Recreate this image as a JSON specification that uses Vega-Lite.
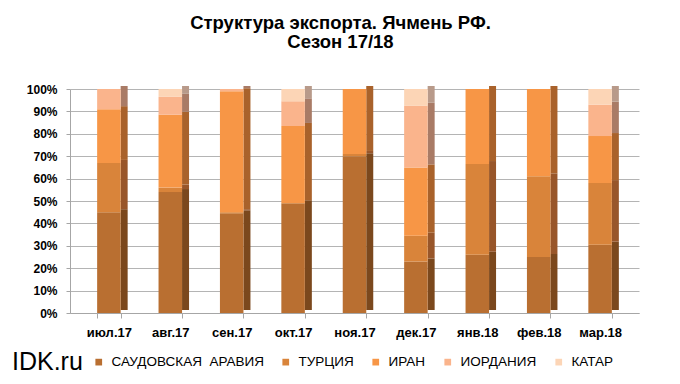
{
  "$schema": "https://vega.github.io/schema/vega-lite/v6.json",
  "width": 569,
  "height": 224,
  "autosize": {"type": "none"},
  "padding": {"left": 70, "top": 89, "right": 41, "bottom": 71},
  "background": "white",
  "title": {
    "text": ["Структура экспорта. Ячмень РФ.", "Сезон 17/18"],
    "font": "Liberation Sans",
    "fontSize": 18.5,
    "fontWeight": "bold",
    "color": "black",
    "lineHeight": 19,
    "anchor": "middle",
    "dx": -14,
    "offset": 32
  },
  "config": {
    "view": {"stroke": null},
    "font": "Liberation Sans"
  },
  "data": {
    "values": [
      {"month": "июл.17", "country": "САУДОВСКАЯ\u00a0 АРАВИЯ", "k": 1, "value": 45},
      {"month": "июл.17", "country": "ТУРЦИЯ", "k": 2, "value": 22},
      {"month": "июл.17", "country": "ИРАН", "k": 3, "value": 24},
      {"month": "июл.17", "country": "ИОРДАНИЯ", "k": 4, "value": 9},
      {"month": "июл.17", "country": "КАТАР", "k": 5, "value": 0},
      {"month": "авг.17", "country": "САУДОВСКАЯ\u00a0 АРАВИЯ", "k": 1, "value": 54},
      {"month": "авг.17", "country": "ТУРЦИЯ", "k": 2, "value": 2},
      {"month": "авг.17", "country": "ИРАН", "k": 3, "value": 32.5},
      {"month": "авг.17", "country": "ИОРДАНИЯ", "k": 4, "value": 8},
      {"month": "авг.17", "country": "КАТАР", "k": 5, "value": 3.5},
      {"month": "сен.17", "country": "САУДОВСКАЯ\u00a0 АРАВИЯ", "k": 1, "value": 44.5},
      {"month": "сен.17", "country": "ТУРЦИЯ", "k": 2, "value": 0.5},
      {"month": "сен.17", "country": "ИРАН", "k": 3, "value": 54},
      {"month": "сен.17", "country": "ИОРДАНИЯ", "k": 4, "value": 1},
      {"month": "сен.17", "country": "КАТАР", "k": 5, "value": 0},
      {"month": "окт.17", "country": "САУДОВСКАЯ\u00a0 АРАВИЯ", "k": 1, "value": 49},
      {"month": "окт.17", "country": "ТУРЦИЯ", "k": 2, "value": 0},
      {"month": "окт.17", "country": "ИРАН", "k": 3, "value": 34.5},
      {"month": "окт.17", "country": "ИОРДАНИЯ", "k": 4, "value": 11},
      {"month": "окт.17", "country": "КАТАР", "k": 5, "value": 5.5},
      {"month": "ноя.17", "country": "САУДОВСКАЯ\u00a0 АРАВИЯ", "k": 1, "value": 70},
      {"month": "ноя.17", "country": "ТУРЦИЯ", "k": 2, "value": 1},
      {"month": "ноя.17", "country": "ИРАН", "k": 3, "value": 29},
      {"month": "ноя.17", "country": "ИОРДАНИЯ", "k": 4, "value": 0},
      {"month": "ноя.17", "country": "КАТАР", "k": 5, "value": 0},
      {"month": "дек.17", "country": "САУДОВСКАЯ\u00a0 АРАВИЯ", "k": 1, "value": 23},
      {"month": "дек.17", "country": "ТУРЦИЯ", "k": 2, "value": 11.5},
      {"month": "дек.17", "country": "ИРАН", "k": 3, "value": 30.5},
      {"month": "дек.17", "country": "ИОРДАНИЯ", "k": 4, "value": 27.5},
      {"month": "дек.17", "country": "КАТАР", "k": 5, "value": 7.5},
      {"month": "янв.18", "country": "САУДОВСКАЯ\u00a0 АРАВИЯ", "k": 1, "value": 26},
      {"month": "янв.18", "country": "ТУРЦИЯ", "k": 2, "value": 40.5},
      {"month": "янв.18", "country": "ИРАН", "k": 3, "value": 33.5},
      {"month": "янв.18", "country": "ИОРДАНИЯ", "k": 4, "value": 0},
      {"month": "янв.18", "country": "КАТАР", "k": 5, "value": 0},
      {"month": "фев.18", "country": "САУДОВСКАЯ\u00a0 АРАВИЯ", "k": 1, "value": 25},
      {"month": "фев.18", "country": "ТУРЦИЯ", "k": 2, "value": 36},
      {"month": "фев.18", "country": "ИРАН", "k": 3, "value": 39},
      {"month": "фев.18", "country": "ИОРДАНИЯ", "k": 4, "value": 0},
      {"month": "фев.18", "country": "КАТАР", "k": 5, "value": 0},
      {"month": "мар.18", "country": "САУДОВСКАЯ\u00a0 АРАВИЯ", "k": 1, "value": 30.5},
      {"month": "мар.18", "country": "ТУРЦИЯ", "k": 2, "value": 27.5},
      {"month": "мар.18", "country": "ИРАН", "k": 3, "value": 21},
      {"month": "мар.18", "country": "ИОРДАНИЯ", "k": 4, "value": 14},
      {"month": "мар.18", "country": "КАТАР", "k": 5, "value": 7}
    ]
  },
  "encoding": {
    "x": {
      "field": "month",
      "type": "nominal",
      "sort": null,
      "scale": {"paddingInner": 0.617, "paddingOuter": 0.442},
      "axis": {
        "title": null,
        "labelAngle": 0,
        "labelFont": "Liberation Sans",
        "labelFontSize": 13,
        "labelFontWeight": "bold",
        "labelColor": "black",
        "tickSize": 5,
        "labelPadding": 8,
        "domainColor": "#a6a6a6",
        "tickColor": "#a6a6a6",
        "tickBand": "extent"
      }
    },
    "y": {
      "field": "value",
      "type": "quantitative",
      "stack": "normalize",
      "scale": {"domain": [0, 1]},
      "axis": {
        "title": null,
        "values": [0, 0.1, 0.2, 0.3, 0.4, 0.5, 0.6, 0.7, 0.8, 0.9, 1],
        "format": ".0%",
        "labelFont": "Liberation Sans",
        "labelFontSize": 12,
        "labelFontWeight": "bold",
        "labelColor": "black",
        "tickSize": 4,
        "labelPadding": 9,
        "domainColor": "#a6a6a6",
        "tickColor": "#a6a6a6",
        "gridColor": "#b4b4b4",
        "gridWidth": 1
      }
    },
    "order": {"field": "k", "type": "quantitative"}
  },
  "layer": [
    {
      "mark": {"type": "bar", "width": 7, "xOffset": 15.25, "yOffset": -3},
      "encoding": {
        "color": {
          "field": "country",
          "type": "nominal",
          "scale": {
            "domain": ["САУДОВСКАЯ\u00a0 АРАВИЯ", "ТУРЦИЯ", "ИРАН", "ИОРДАНИЯ", "КАТАР"],
            "range": ["#7b481d", "#98562a", "#a9622b", "#a97b66", "#b89a8a"]
          },
          "legend": null
        }
      }
    },
    {
      "mark": {"type": "bar"},
      "encoding": {
        "color": {
          "field": "country",
          "type": "nominal",
          "scale": {
            "domain": ["САУДОВСКАЯ\u00a0 АРАВИЯ", "ТУРЦИЯ", "ИРАН", "ИОРДАНИЯ", "КАТАР"],
            "range": ["#b96f31", "#d9843a", "#f79646", "#fab48c", "#fcd5b6"]
          },
          "legend": {
            "orient": "none",
            "legendX": -58,
            "legendY": 266,
            "direction": "horizontal",
            "title": "IDK.ru",
            "titleOrient": "left",
            "titleFont": "Liberation Sans",
            "titleFontSize": 25,
            "titleFontWeight": "normal",
            "titleColor": "black",
            "titlePadding": 9,
            "labelFont": "Liberation Sans",
            "labelFontSize": 13.5,
            "labelColor": "black",
            "symbolType": "square",
            "symbolSize": 45,
            "symbolStrokeWidth": 0,
            "labelOffset": 6,
            "columnPadding": 15
          }
        }
      }
    }
  ],
  "resolve": {"scale": {"color": "independent"}}
}
